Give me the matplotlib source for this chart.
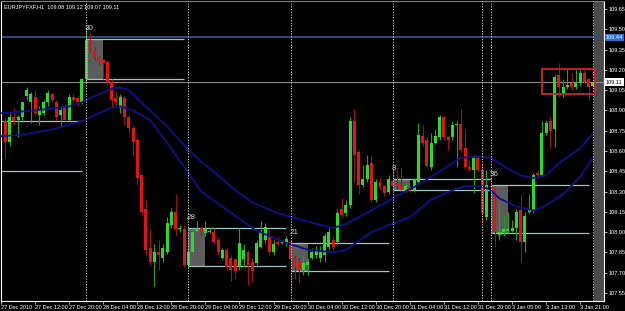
"""EURJPY H1 chart (MetaTrader style): candles, two moving averages,
session range boxes with pip counts, day separators and price tags.

Values are read off the screenshot by eye.
"""
import matplotlib
matplotlib.use("Agg")
import matplotlib.pyplot as plt
from matplotlib.patches import Rectangle
import numpy as np

OUT = "out.png"

HEADER = "EURJPYFXF,H1  109.08 109.12 109.07 109.11"

# hourly candles, bar 0 = 27 Dec 05:00
OPEN = [
    108.82, 108.67, 108.85, 108.83, 108.85, 109.01, 108.96, 109.00, 108.87, 108.88,
    108.96, 109.02, 108.96, 108.87, 108.93, 108.83, 109.00, 108.99, 108.96, 109.13,
    109.42, 109.35, 109.29, 109.27, 109.26, 109.11, 108.99, 108.92, 108.99, 108.85,
    108.77, 108.68, 108.42, 108.17, 107.88, 107.78, 107.85, 107.81, 107.85, 108.05,
    108.15, 108.02, 108.02, 107.76, 107.85, 108.01, 108.03, 107.99, 108.00, 108.00,
    107.94, 107.81, 107.87, 107.81, 107.80, 107.74, 107.80, 107.85, 107.78, 107.77,
    107.89, 107.94, 107.97, 107.85, 107.93, 107.92, 107.92, 107.93, 107.81, 107.78,
    107.72, 107.76, 107.81, 107.83, 107.81, 107.83, 107.89, 107.94, 107.93, 108.17,
    108.14, 108.20, 108.82, 108.59, 108.35, 108.39, 108.51, 108.24, 108.37, 108.34,
    108.30, 108.38, 108.36, 108.34, 108.31, 108.33, 108.31, 108.37, 108.71, 108.68,
    108.48, 108.66, 108.70, 108.85, 108.70, 108.70, 108.79, 108.80, 108.62, 108.48,
    108.46, 108.55, 108.46, 108.11, 108.34, 108.33, 107.98, 108.00, 108.01, 108.01,
    108.03, 108.16, 107.93, 108.15, 108.16, 108.44, 108.42, 108.73, 108.82, 108.76,
    109.16, 109.03, 109.07, 109.10, 109.07, 109.10, 109.18, 109.13, 109.08,
]
HIGH = [
    108.85, 108.88, 108.92, 108.87, 108.97, 109.07, 109.04, 109.05, 108.93, 108.98,
    109.05, 109.03, 108.98, 108.93, 108.95, 109.02, 109.02, 109.01, 109.14, 109.50,
    109.47, 109.37, 109.30, 109.28, 109.27, 109.13, 109.04, 109.02, 109.01, 108.87,
    108.79, 108.70, 108.43, 108.24, 108.02, 107.91, 107.94, 107.91, 108.11, 108.18,
    108.28, 108.05, 108.05, 107.87, 108.03, 108.08, 108.04, 108.08, 108.03, 108.03,
    107.96, 107.88, 107.88, 107.83, 107.81, 108.03, 107.91, 107.87, 107.81, 107.94,
    108.08, 108.07, 108.02, 107.94, 107.96, 107.94, 107.97, 107.94, 107.83, 107.81,
    107.82, 107.81, 107.88, 107.90, 107.90, 107.99, 108.03, 107.97, 108.17, 108.25,
    108.24, 108.85, 108.91, 108.61, 108.50, 108.57, 108.57, 108.39, 108.40, 108.35,
    108.42, 108.46, 108.48, 108.48, 108.36, 108.34, 108.40, 108.81, 108.79, 108.70,
    108.73, 108.76, 108.87, 108.87, 108.72, 108.82, 108.82, 108.91, 108.76, 108.53,
    108.57, 108.57, 108.51, 108.46, 108.36, 108.34, 108.22, 108.13, 108.15, 108.09,
    108.17, 108.28, 108.15, 108.28, 108.44, 108.46, 108.82, 108.83, 108.85, 109.16,
    109.25, 109.13, 109.21, 109.18, 109.20, 109.20, 109.20, 109.14, 109.12,
]
LOW = [
    108.55, 108.64, 108.79, 108.70, 108.83, 108.98, 108.81, 108.87, 108.79, 108.87,
    108.93, 108.96, 108.83, 108.78, 108.82, 108.82, 108.96, 108.93, 108.95, 109.11,
    109.33, 109.27, 109.24, 109.13, 109.09, 108.92, 108.92, 108.88, 108.79, 108.73,
    108.57, 108.35, 108.13, 107.83, 107.76, 107.60, 107.72, 107.78, 107.84, 108.03,
    107.98, 108.00, 107.74, 107.74, 107.83, 108.00, 107.97, 107.97, 107.99, 107.91,
    107.83, 107.80, 107.72, 107.64, 107.66, 107.72, 107.74, 107.61, 107.63, 107.74,
    107.88, 107.92, 107.83, 107.83, 107.90, 107.91, 107.90, 107.56, 107.65, 107.63,
    107.68, 107.68, 107.80, 107.81, 107.78, 107.78, 107.87, 107.87, 107.91, 108.11,
    108.12, 108.18, 108.37, 108.28, 108.33, 108.37, 108.22, 108.22, 108.31, 108.27,
    108.28, 108.33, 108.32, 108.31, 108.30, 108.30, 108.30, 108.36, 108.64, 108.48,
    108.46, 108.65, 108.68, 108.68, 108.61, 108.68, 108.48, 108.59, 108.46, 108.45,
    108.29, 108.45, 108.07, 108.09, 108.31, 107.89, 107.94, 107.97, 107.99, 108.00,
    107.94, 107.78, 107.85, 108.14, 108.14, 108.40, 108.41, 108.72, 108.62, 108.63,
    109.00, 109.00, 109.06, 109.05, 109.06, 109.08, 109.10, 108.98, 109.07,
]
CLOSE = [
    108.67, 108.85, 108.82, 108.85, 108.96, 109.05, 109.02, 108.88, 108.90, 108.96,
    109.03, 108.98, 108.85, 108.90, 108.83, 109.00, 108.98, 108.96, 109.13, 109.42,
    109.35, 109.29, 109.26, 109.25, 109.11, 108.98, 108.96, 109.00, 108.85, 108.77,
    108.67, 108.40, 108.15, 107.87, 107.78, 107.85, 107.83, 107.88, 108.07, 108.15,
    108.02, 108.03, 107.76, 107.85, 108.00, 108.03, 108.00, 108.02, 108.00, 107.93,
    107.85, 107.87, 107.74, 107.72, 107.71, 107.92, 107.87, 107.76, 107.71, 107.92,
    108.00, 108.04, 107.85, 107.91, 107.91, 107.93, 107.95, 107.80, 107.74, 107.72,
    107.77, 107.78, 107.85, 107.87, 107.85, 107.97, 108.00, 107.89, 108.14, 108.13,
    108.20, 108.82, 108.57, 108.35, 108.39, 108.50, 108.24, 108.37, 108.33, 108.29,
    108.39, 108.34, 108.34, 108.31, 108.34, 108.31, 108.39, 108.72, 108.66, 108.49,
    108.66, 108.71, 108.85, 108.70, 108.68, 108.79, 108.80, 108.61, 108.48, 108.47,
    108.55, 108.46, 108.14, 108.35, 108.33, 108.00, 108.00, 108.02, 108.02, 108.03,
    108.15, 107.93, 108.12, 108.17, 108.42, 108.42, 108.73, 108.81, 108.75, 109.15,
    109.07, 109.07, 109.09, 109.07, 109.10, 109.18, 109.11, 109.07, 109.11,
]

# moving averages, sampled at bar indices
MA_FAST_IDX = [-1, 7, 15, 18, 22, 25, 27, 29, 33, 38, 43, 46, 50, 54, 58, 64, 72,
               77, 80, 83, 87, 90, 92, 97, 102, 107, 111, 114, 118, 121, 124, 127,
               130, 135, 138]
MA_FAST = [108.88, 108.90, 108.93, 108.96, 109.02, 109.06, 109.07, 109.05, 108.93,
           108.78, 108.61, 108.52, 108.42, 108.31, 108.22, 108.14, 108.07, 108.03,
           108.06, 108.11, 108.18, 108.23, 108.27, 108.35, 108.45, 108.55, 108.56,
           108.55, 108.47, 108.42, 108.40, 108.42, 108.51, 108.62, 108.73]
MA_SLOW_IDX = [-1, 4, 11, 18, 22, 25, 27, 30, 34, 38, 43, 46, 50, 54, 59, 66, 71,
               77, 80, 86, 90, 95, 100, 105, 108, 112, 114, 116, 120, 124, 126, 131,
               135, 138]
MA_SLOW = [108.71, 108.72, 108.76, 108.82, 108.88, 108.92, 108.93, 108.90, 108.83,
           108.66, 108.44, 108.30, 108.21, 108.12, 108.01, 107.92, 107.87, 107.85,
           107.87, 108.00, 108.05, 108.11, 108.24, 108.31, 108.34, 108.34, 108.31,
           108.25, 108.19, 108.16, 108.18, 108.28, 108.41, 108.55]

# early-session range boxes: label (pips), first bar, top, bottom
BOX_LABELS = ["37", "30", "28", "21", "8", "36"]
BOX_START = [-5, 19, 43, 67, 91, 114]
BOX_TOP = [108.82, 109.43, 108.03, 107.92, 108.39, 108.35]
BOX_BOTTOM = [108.45, 109.13, 107.75, 107.71, 108.31, 107.99]

SEPARATORS = [19, 43, 67, 91, 112, 114, 138]   # day starts

BLUE_LEVEL = 109.44
BID = 109.11

# red highlight rectangle
RECT_X = [126, 138.5]
RECT_Y = [109.02, 109.21]

PRICE_TICKS = [107.55, 107.70, 107.85, 108.00, 108.15, 108.30, 108.45, 108.60,
               108.75, 108.90, 109.05, 109.20, 109.35, 109.50, 109.65]
TIME_TICKS = [-1, 7, 15, 23, 31, 39, 47, 55, 63, 71, 79, 87, 95, 103, 111, 119,
              127, 135]
TIME_LABELS = ["27 Dec 2010", "27 Dec 12:00", "27 Dec 20:00", "28 Dec 04:00",
               "28 Dec 12:00", "28 Dec 20:00", "29 Dec 04:00", "29 Dec 12:00",
               "29 Dec 20:00", "30 Dec 04:00", "30 Dec 12:00", "30 Dec 20:00",
               "31 Dec 04:00", "31 Dec 12:00", "31 Dec 20:00", "3 Jan 05:00",
               "3 Jan 13:00", "3 Jan 21:00"]

BULL, BEAR = "#26dc26", "#e01414"
BULL_WICK, BEAR_WICK = "#1aa81a", "#a01010"
MA_COLOR = "#10108e"
BOX_LINE = "#9cc6c6"
BOX_FILL = "#5c5c5c"
FS = 4.0


def main() -> None:
    plt.rcParams["font.family"] = ["Liberation Sans", "DejaVu Sans"]

    fig = plt.figure(figsize=(6.25, 3.11), dpi=100, facecolor="black")
    ax = fig.add_axes([1 / 625, 10 / 311, 603 / 625, 300 / 311])
    ax.set_facecolor("black")

    o, h, l, c = (np.array(a) for a in (OPEN, HIGH, LOW, CLOSE))
    idx = np.arange(len(o))
    up = c >= o

    # chart-shift strip on the right
    ax.axvspan(138.35, 140.6, color="#4a4a4a", lw=0, zorder=0.5)

    # range boxes
    for lab, s, top, bot in zip(BOX_LABELS, BOX_START, BOX_TOP, BOX_BOTTOM):
        ax.add_patch(Rectangle((s, bot), 4, top - bot, fc=BOX_FILL, ec="none", zorder=1))
        ax.hlines([top, bot], s, s + 23, colors=BOX_LINE, lw=0.9, zorder=2)
        ax.annotate(lab, (s, top), xytext=(-1, 5), textcoords="offset points",
                    color="#d0d0d0", fontsize=5.8, ha="left", va="bottom", zorder=6)

    # horizontal levels
    ax.axhline(BLUE_LEVEL, color="#34497a", lw=1.4, zorder=1.5)
    ax.axhline(BID, color="#8c8c8c", lw=0.8, zorder=1.5)

    # candles
    ax.vlines(idx, l, h, colors=np.where(up, BULL_WICK, BEAR_WICK), lw=0.8, zorder=3)
    body = np.maximum(np.abs(c - o), 0.007)
    ax.bar(idx, body, bottom=np.minimum(o, c), width=0.7,
           color=np.where(up, BULL, BEAR), lw=0, zorder=3.5)

    # moving averages
    ax.plot(MA_FAST_IDX, MA_FAST, color=MA_COLOR, lw=1.3, zorder=4)
    ax.plot(MA_SLOW_IDX, MA_SLOW, color=MA_COLOR, lw=1.3, zorder=4)

    # day separators
    for s in SEPARATORS:
        ax.axvline(s, color="#d8d8d8", lw=0.7, ls=(0, (1.2, 1.6)), zorder=5)

    # highlight rectangle
    ax.add_patch(Rectangle((RECT_X[0], RECT_Y[0]), RECT_X[1] - RECT_X[0],
                           RECT_Y[1] - RECT_Y[0], fc="none", ec="#d42222",
                           lw=1.3, zorder=6))

    ax.set_xlim(-1.0, 140.6)
    ax.set_ylim(107.49, 109.71)

    ax.yaxis.tick_right()
    ax.set_yticks(PRICE_TICKS)
    ax.set_yticklabels([f"{p:.2f}" for p in PRICE_TICKS])
    ax.set_xticks(TIME_TICKS)
    ax.set_xticklabels(TIME_LABELS)
    for t in ax.get_xticklabels():
        t.set_horizontalalignment("left")
    ax.tick_params(axis="y", colors="white", labelsize=FS, length=2, width=0.5, pad=1.5)
    ax.tick_params(axis="x", colors="white", labelsize=FS, length=2, width=0.5, pad=0.8)

    for side in ("left", "bottom", "right"):
        ax.spines[side].set_color("white")
        ax.spines[side].set_linewidth(0.8)
    ax.spines["top"].set_color("#808080")
    ax.spines["top"].set_linewidth(0.8)

    # price tags on the scale
    ytr = ax.get_yaxis_transform()
    ax.text(1.003, BLUE_LEVEL, f"{BLUE_LEVEL:.2f}", transform=ytr, ha="left",
            va="center", fontsize=FS, color="white", clip_on=False, zorder=10,
            bbox=dict(boxstyle="square,pad=0.2", fc="#2f6fce", ec="none"))
    ax.text(1.003, BID, f"{BID:.2f}", transform=ytr, ha="left", va="center",
            fontsize=FS, color="black", clip_on=False, zorder=10,
            bbox=dict(boxstyle="square,pad=0.2", fc="white", ec="none"))

    ax.text(0.005, 0.988, HEADER, transform=ax.transAxes, ha="left", va="top",
            fontsize=FS, color="white", zorder=10)

    fig.savefig(OUT, dpi=100, facecolor="black")
    plt.close(fig)


if __name__ == "__main__":
    main()
